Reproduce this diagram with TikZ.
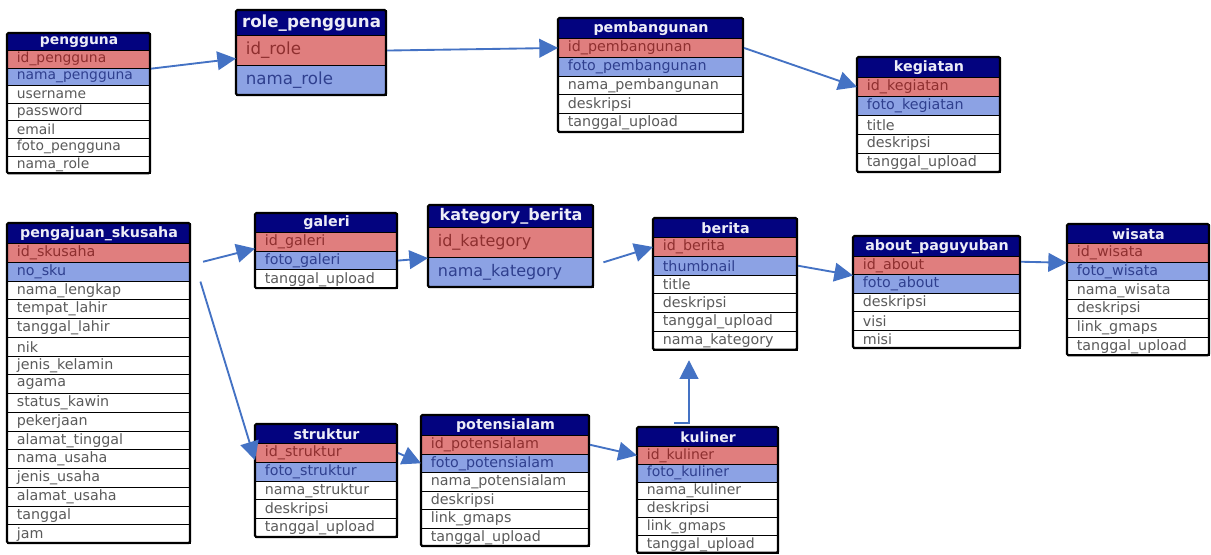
\documentclass[tikz,border=0pt]{standalone}
\usepackage{fontspec}
\setmainfont{DejaVu Sans}
\usetikzlibrary{arrows.meta,calc}
\definecolor{hdr}{HTML}{03037F}
\definecolor{hdrtxt}{HTML}{EDEDF7}
\definecolor{fillp}{HTML}{E07E7E}
\definecolor{fillf}{HTML}{8CA2E4}
\definecolor{filln}{HTML}{FFFFFF}
\definecolor{txtp}{HTML}{8E2F2F}
\definecolor{txtf}{HTML}{2F3F8E}
\definecolor{txtn}{HTML}{5A5A5A}
\definecolor{connc}{HTML}{4472C4}
\tikzset{
  erhead/.style={draw=black, line width=0.8pt, fill=hdr, text=hdrtxt, anchor=north west, inner xsep=2pt, inner ysep=0pt},
  errow/.style={draw=black, line width=0.8pt, fill=fill#1, text=txt#1, anchor=north west, inner xsep=7pt, inner ysep=0pt, align=left},
  erborder/.style={draw=black, line width=1.6pt, rounded corners=1pt},
  conn/.style={draw=connc, line width=1.4pt, -{Triangle[length=14pt,width=14pt]}}
}
% #1 name, #2 x left, #3 x right, #4 y top, #5 header height, #6 title, #7 row height, #8 font size, #9 rows
\newcommand{\ertable}[9]{%
  \pgfmathsetmacro\erw{(#3-#2)*0.75}%
  \pgfmathsetmacro\ertxtw{(#3-#2)*0.75-14}%
  \node[erhead, font=\fontsize{#8}{#8}\selectfont\bfseries, minimum width=\erw pt, minimum height={#5*0.75pt}] (#1) at (#2,#4) {#6};
  \foreach \t/\txt [count=\i] in {#9} {
    \node[errow=\t, font=\fontsize{#8}{#8}\selectfont, text width=\ertxtw pt, minimum height={#7*0.75pt}] (#1-\i) at (#2,{#4+#5+(\i-1)*#7}) {\txt};
    \coordinate (#1-bot) at (#3,{#4+#5+\i*#7});
  }
  \draw[erborder] (#1.north west) rectangle (#1-bot);
}
\begin{document}
\begin{tikzpicture}[x=0.75pt,y=-0.75pt]
\useasboundingbox[fill=white] (0,0) rectangle (1211,554);

\ertable{peng}{7}{150}{33}{17}{pengguna}{17.6}{10.4}{p/id\_pengguna, f/nama\_pengguna, n/username, n/password, n/email, n/foto\_pengguna, n/nama\_role}
\ertable{role}{236}{386}{10}{25}{role\_pengguna}{30}{12.5}{p/id\_role, f/nama\_role}
\ertable{pemb}{558}{743}{18}{20}{pembangunan}{18.8}{10.7}{p/id\_pembangunan, f/foto\_pembangunan, n/nama\_pembangunan, n/deskripsi, n/tanggal\_upload}
\ertable{keg}{857}{1000}{57}{20}{kegiatan}{19}{10.7}{p/id\_kegiatan, f/foto\_kegiatan, n/title, n/deskripsi, n/tanggal\_upload}
\ertable{sku}{7}{190}{223}{20}{pengajuan\_skusaha}{18.75}{10.7}{p/id\_skusaha, f/no\_sku, n/nama\_lengkap, n/tempat\_lahir, n/tanggal\_lahir, n/nik, n/jenis\_kelamin, n/agama, n/status\_kawin, n/pekerjaan, n/alamat\_tinggal, n/nama\_usaha, n/jenis\_usaha, n/alamat\_usaha, n/tanggal, n/jam}
\ertable{gal}{255}{397}{213}{19}{galeri}{18.7}{10.7}{p/id\_galeri, f/foto\_galeri, n/tanggal\_upload}
\ertable{kat}{428}{593}{205}{22}{kategory\_berita}{30}{12}{p/id\_kategory, f/nama\_kategory}
\ertable{ber}{653}{797}{218}{19}{berita}{18.8}{10.7}{p/id\_berita, f/thumbnail, n/title, n/deskripsi, n/tanggal\_upload, n/nama\_kategory}
\ertable{abt}{853}{1020}{236}{20}{about\_paguyuban}{18.4}{10.7}{p/id\_about, f/foto\_about, n/deskripsi, n/visi, n/misi}
\ertable{wis}{1067}{1209}{224}{19}{wisata}{18.7}{10.7}{p/id\_wisata, f/foto\_wisata, n/nama\_wisata, n/deskripsi, n/link\_gmaps, n/tanggal\_upload}
\ertable{str}{255}{397}{424}{19}{struktur}{18.8}{10.7}{p/id\_struktur, f/foto\_struktur, n/nama\_struktur, n/deskripsi, n/tanggal\_upload}
\ertable{pot}{421}{589}{415}{20}{potensialam}{18.5}{10.7}{p/id\_potensialam, f/foto\_potensialam, n/nama\_potensialam, n/deskripsi, n/link\_gmaps, n/tanggal\_upload}
\ertable{kul}{637}{778}{427}{19}{kuliner}{17.8}{10.5}{p/id\_kuliner, f/foto\_kuliner, n/nama\_kuliner, n/deskripsi, n/link\_gmaps, n/tanggal\_upload}

\draw[conn] (peng-1.south east) -- ([yshift=-6pt]role-1.west);
\draw[conn] (role-1.east) -- (pemb-1.west);
\draw[conn] (pemb-1.east) -- (keg-1.west);
\draw[conn] ([xshift=9pt]sku-2.north east) -- ([yshift=-5pt]gal-1.west);
\draw[conn] ([xshift=7pt]sku-2.south east) -- ([yshift=2pt]str-1.south west);
\draw[conn] (gal-2.east) -- (kat-1.south west);
\draw[conn] ([xshift=7pt,yshift=-4pt]kat-2.north east) -- (ber-1.west);
\draw[conn] (ber-2.east) -- (abt-1.south west);
\draw[conn] ([yshift=3pt]abt-1.east) -- (wis-1.south west);
\draw[conn] (str-1.east) -- (pot-2.west);
\draw[conn] (pot-1.east) -- (kul-1.west);
\coordinate (kulfoot) at ([xshift=28pt,yshift=3pt]kul.north west);
\draw[conn] (kulfoot) -| ([xshift=27pt,yshift=-7pt]ber-6.south west);
\end{tikzpicture}
\end{document}
